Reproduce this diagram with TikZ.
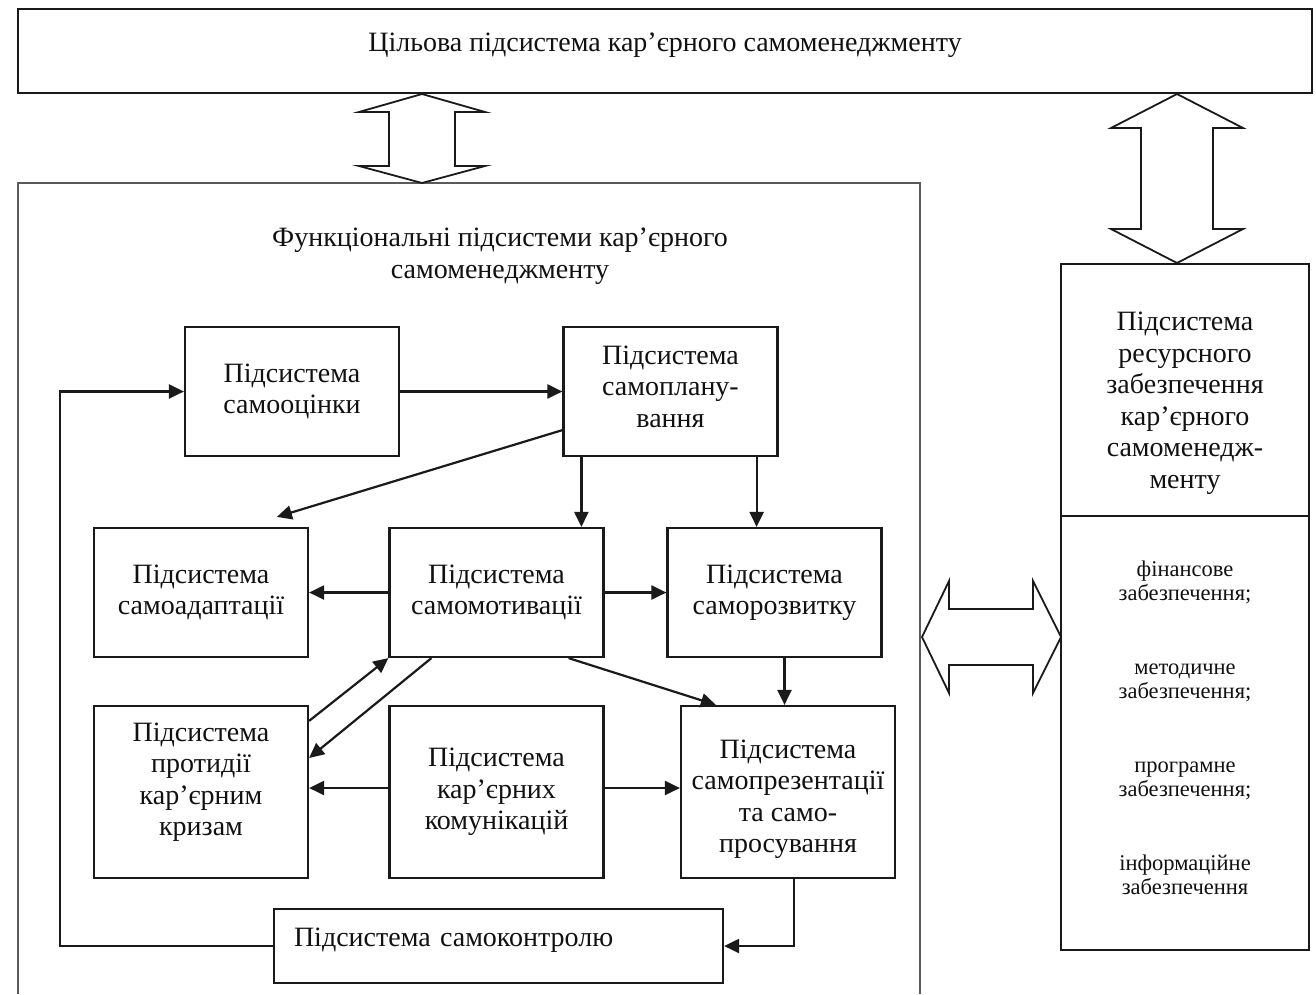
\documentclass[tikz,border=0pt]{standalone}
\usepackage{fontspec}
\setmainfont{Liberation Serif}
\usetikzlibrary{arrows.meta,calc}
\definecolor{linecol}{HTML}{1A1A1A}
\definecolor{framecol}{HTML}{5A5A5A}
\definecolor{textcol}{HTML}{111111}
\newcommand{\subsysfont}{\fontsize{28}{31.5}\selectfont}
\newcommand{\itemfont}{\fontsize{22.5}{24}\selectfont}
% invisible struts to move a text inside its box
\newcommand{\padtop}[1]{\rule{0pt}{#1}}
\newcommand{\padbot}[1]{\rule[-#1]{0pt}{#1}}
\tikzset{
  subsys/.style={draw=linecol,line width=2.2pt,fill=white,align=center,text=textcol,
    font=\subsysfont,inner sep=4pt,minimum width=214pt,minimum height=129pt},
  conn/.style={draw=linecol,line width=2.2pt,-{Triangle[length=15pt,width=14pt]}},
  blockarrow/.style={draw=linecol,line width=1.8pt,fill=white,line join=miter}
}

\begin{document}
\begin{tikzpicture}[x=1pt,y=-1pt]
\useasboundingbox (0,0) rectangle (1316,994);
% target subsystem
\node[subsys,minimum width=1294pt,minimum height=84pt] (goal) at (665,51) {Цільова підсистема кар’єрного самоменеджменту\padbot{18pt}};
% frame of the functional subsystems
\draw[framecol,line width=2pt] (18,994) -- (18,183) -- (920,183) -- (920,994);
\node[font=\subsysfont,text=textcol,align=center] (functitle) at (500,256) {Функціональні підсистеми кар’єрного\\самоменеджменту};

\foreach \nm/\xx/\yy/\txt in {
	eval/292/391.5/{Підсистема\\самооцінки},
	plan/670.5/391.5/{Підсистема\\самоплану-\\вання\padbot{10pt}},
	adapt/201/592.5/{Підсистема\\самоадаптації},
	motiv/496.5/592.5/{Підсистема\\самомотивації},
	devel/774.5/592.5/{Підсистема\\саморозвитку}%
	}{
	\node[subsys] (\nm) at (\xx,\yy) {\txt};
	}
\foreach \nm/\xx/\txt in {
	crisis/201/{Підсистема\\протидії\\кар’єрним\\кризам\padbot{26pt}},
	comm/496.5/{Підсистема\\кар’єрних\\комунікацій},
	pres/788/{\padtop{33pt}Підсистема\\самопрезентації\\та само-\\просування}%
	}{
	\node[subsys,minimum height=172pt] (\nm) at (\xx,792) {\txt};
	}
\node[subsys,minimum width=449pt,minimum height=74pt,text width=409pt,align=left] (ctrl) at (498.5,946) {Підсистема самоконтролю\padbot{18pt}};

% resource subsystem
\node[subsys,minimum width=248pt,minimum height=252pt] (resup) at (1185,390) {\padtop{45pt}Підсистема\\ресурсного\\забезпечення\\кар’єрного\\самоменедж-\\менту};
\node[subsys,minimum width=248pt,minimum height=434pt,font=\itemfont] (reslow) at (1185,733) {фінансове\\забезпечення;\\[50pt]методичне\\забезпечення;\\[50pt]програмне\\забезпечення;\\[50pt]інформаційне\\забезпечення\padbot{10pt}};

% block arrows
\draw[blockarrow] (422,94) -- (485,112) -- (455,112) -- (455,166) -- (485,166) -- (422,183)
	-- (359,166) -- (389,166) -- (389,112) -- (359,112) -- cycle;
\draw[blockarrow] (1177,94) -- (1243,128) -- (1213,128) -- (1213,229) -- (1243,229) -- (1177,263)
	-- (1111,229) -- (1141,229) -- (1141,128) -- (1111,128) -- cycle;
\draw[blockarrow] (922,637) -- (949,581) -- (949,609) -- (1033,609) -- (1033,581) -- (1061,637)
	-- (1033,693) -- (1033,665) -- (949,665) -- (949,693) -- cycle;

% connectors
\draw[conn] (eval.east) -- (plan.west);
\draw[conn] ($(plan.south west)+(0,-27)$) -- ($(adapt.north west)+(184,-10)$);
\draw[conn] ($(plan.south west)+(19,0)$) coordinate (p1) -- (p1 |- motiv.north);
\draw[conn] ($(plan.south east)+(-22,0)$) coordinate (p2) -- (p2 |- devel.north);
\draw[conn] (motiv.west) -- (adapt.east);
\draw[conn] (motiv.east) -- (devel.west);
\draw[conn] ($(motiv.south east)+(-36,0)$) -- ($(pres.north west)+(36,0)$);
\draw[conn] ($(devel.south)+(10,0)$) coordinate (p3) -- (p3 |- pres.north);
\draw[conn] ($(crisis.north east)+(0,16)$) -- (motiv.south west);
\draw[conn] ($(motiv.south west)+(43,0)$) -- ($(crisis.east)+(0,-34)$);
\draw[conn] ($(comm.west)+(0,-4)$) -- ($(crisis.east)+(0,-4)$);
\draw[conn] ($(comm.east)+(0,-4)$) -- ($(pres.west)+(0,-4)$);
\draw[conn] ($(pres.south)+(6,0)$) coordinate (p4) |- (ctrl.east);
\coordinate (loop) at (60,0);
\draw[conn] (ctrl.west) -| (loop |- eval.west) -- (eval.west);
\end{tikzpicture}
\end{document}
